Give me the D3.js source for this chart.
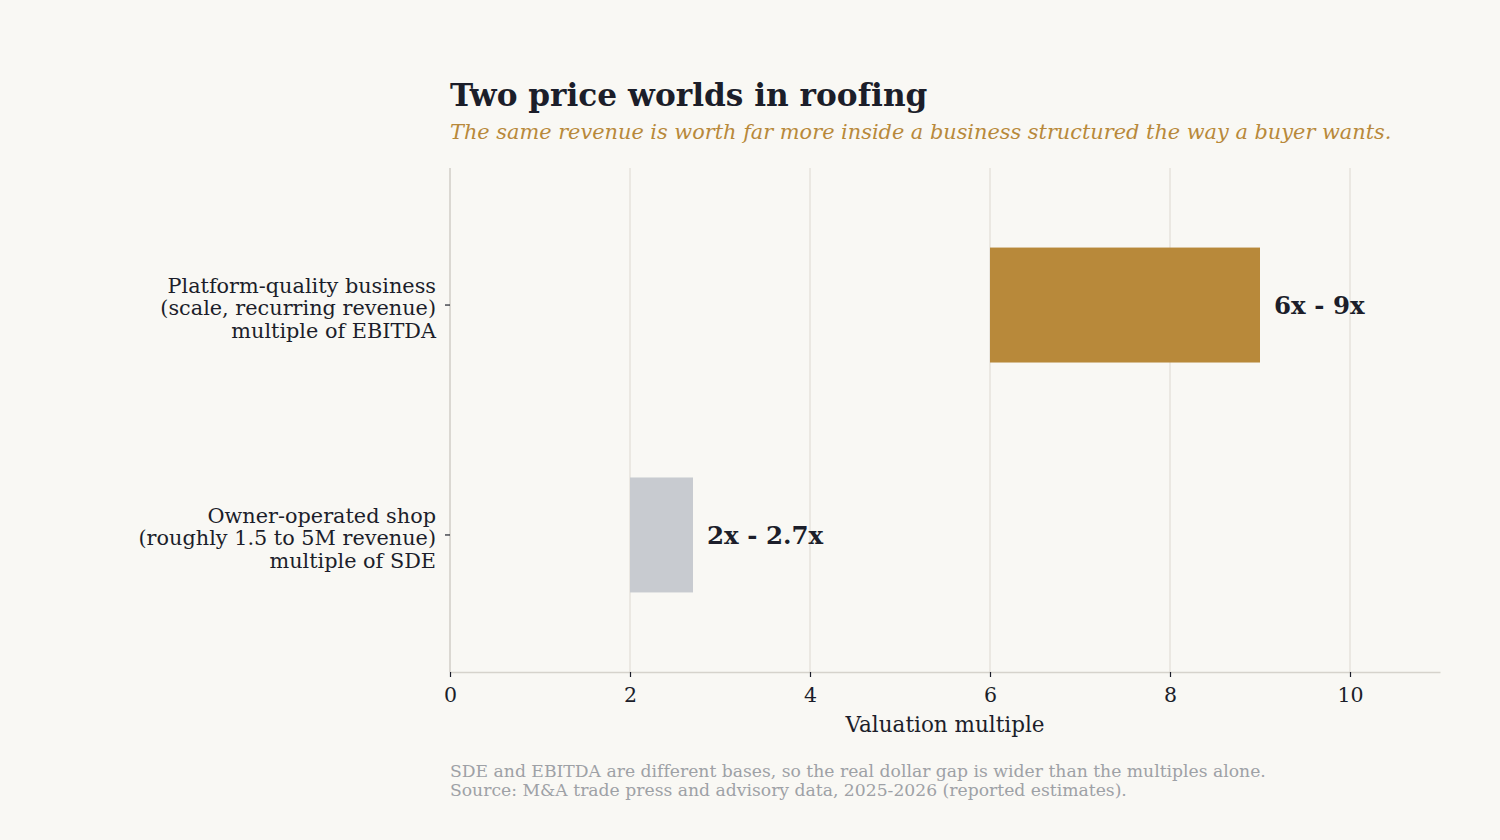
<!DOCTYPE html>
<html>
<head>
<meta charset="utf-8">
<script src="https://cdn.jsdelivr.net/npm/d3@7"></script>
<style>
  body { margin: 0; background: #f9f8f4; }
  svg { display: block; font-family: "DejaVu Serif", serif; font-variant-ligatures: none; }
</style>
</head>
<body>
<svg id="chart" width="1500" height="840"></svg>
<script>
// data
var categories = [
  ["Platform-quality business", "(scale, recurring revenue)", "multiple of EBITDA"],
  ["Owner-operated shop", "(roughly 1.5 to 5M revenue)", "multiple of SDE"]
];
var lowValues = [6, 2];
var highValues = [9, 2.7];
var barLabels = ["6x - 9x", "2x - 2.7x"];
var barColors = ["#b8893a", "#c8cbd0"];
var xTicks = [0, 2, 4, 6, 8, 10];

var margin = {top: 168, right: 60, bottom: 168, left: 450};
var width = 1500 - margin.left - margin.right;
var height = 840 - margin.top - margin.bottom;

var svg = d3.select("#chart");
var g = svg.append("g")
    .attr("transform", "translate(" + margin.left + "," + margin.top + ")");

var x = d3.scaleLinear().domain([0, 11]).range([0, width]);
var y = d3.scaleBand()
    .domain(d3.range(categories.length))
    .range([0, height])
    .paddingInner(0.5)
    .paddingOuter(0.346);

// grid
g.selectAll(".grid")
  .data(xTicks)
  .enter().append("line")
    .attr("x1", function(d) { return x(d); })
    .attr("x2", function(d) { return x(d); })
    .attr("y1", 0)
    .attr("y2", height)
    .attr("stroke", "#e6e3dc")
    .attr("stroke-width", 1.5);

// left spine
g.append("line")
  .attr("x1", 0).attr("x2", 0)
  .attr("y1", 0).attr("y2", height)
  .attr("stroke", "#d6d3cc").attr("stroke-width", 1.5);

// bars
g.selectAll(".bar")
  .data(categories)
  .enter().append("rect")
    .attr("x", function(d, i) { return x(lowValues[i]); })
    .attr("y", function(d, i) { return y(i); })
    .attr("width", function(d, i) { return x(highValues[i]) - x(lowValues[i]); })
    .attr("height", y.bandwidth())
    .attr("fill", function(d, i) { return barColors[i]; });

// bar labels
g.selectAll(".blabel")
  .data(barLabels)
  .enter().append("text")
    .attr("x", function(d, i) { return x(highValues[i]) + 14; })
    .attr("y", function(d, i) { return y(i) + y.bandwidth() / 2; })
    .attr("dy", "0.35em")
    .attr("font-size", 24.5)
    .attr("font-weight", "bold")
    .attr("fill", "#1c1e2a")
    .text(function(d) { return d; });

// x axis
var xAxis = g.append("g")
    .attr("transform", "translate(0," + height + ")")
    .call(d3.axisBottom(x).tickValues(xTicks).tickSize(5).tickSizeOuter(0).tickPadding(10));
xAxis.select(".domain").attr("stroke", "#d6d3cc").attr("stroke-width", 1.5);
xAxis.selectAll(".tick line").attr("stroke", "#1c1e2a").attr("stroke-width", 1.2);
xAxis.selectAll(".tick text")
    .attr("font-family", "DejaVu Serif, serif")
    .attr("font-size", 20.5)
    .attr("fill", "#1c1e2a");

// y axis ticks and labels
var yTick = g.selectAll(".ytick")
  .data(categories)
  .enter().append("g")
    .attr("transform", function(d, i) { return "translate(0," + (y(i) + y.bandwidth() / 2) + ")"; });

yTick.append("line")
  .attr("x1", -5).attr("x2", 0)
  .attr("stroke", "#1c1e2a").attr("stroke-width", 1.2);

yTick.append("text")
  .attr("text-anchor", "end")
  .attr("font-size", 20.8)
  .attr("fill", "#1c1e2a")
  .selectAll("tspan")
  .data(function(d) { return d; })
  .enter().append("tspan")
    .attr("x", -14)
    .attr("y", function(d, i) { return (i - 1) * 22.5 + 3; })
    .attr("dy", "0.35em")
    .text(function(d) { return d; });

// axis title
g.append("text")
  .attr("x", width / 2)
  .attr("y", height + 60)
  .attr("text-anchor", "middle")
  .attr("font-size", 21.5)
  .attr("fill", "#1c1e2a")
  .text("Valuation multiple");

// title and subtitle
svg.append("text")
  .attr("x", 450).attr("y", 106)
  .attr("font-size", 31.2)
  .attr("font-weight", "bold")
  .attr("fill", "#1c1e2a")
  .text("Two price worlds in roofing");

svg.append("text")
  .attr("x", 450).attr("y", 139)
  .attr("font-size", 20.85)
  .attr("font-style", "italic")
  .attr("fill", "#b8893a")
  .text("The same revenue is worth far more inside a business structured the way a buyer wants.");

// footnote
var notes = [
  "SDE and EBITDA are different bases, so the real dollar gap is wider than the multiples alone.",
  "Source: M&A trade press and advisory data, 2025-2026 (reported estimates)."
];
svg.selectAll(".note")
  .data(notes)
  .enter().append("text")
    .attr("x", 450)
    .attr("y", function(d, i) { return 777 + i * 19; })
    .attr("font-size", 17.2)
    .attr("fill", "#9ea1a6")
    .text(function(d) { return d; });
</script>
</body>
</html>
